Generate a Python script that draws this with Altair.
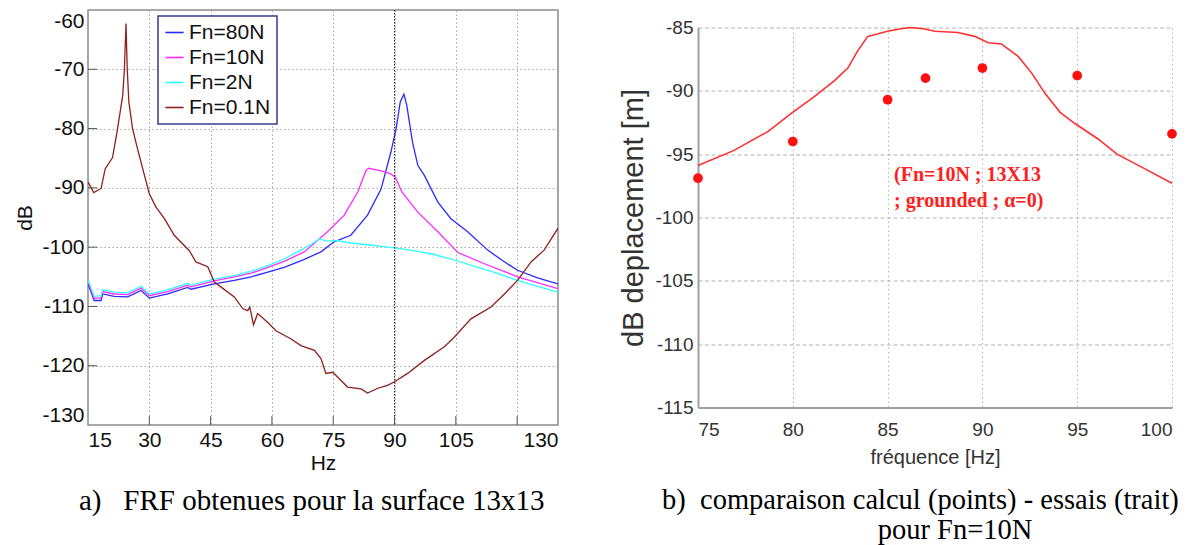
import altair as alt
import pandas as pd

# ---------------- Panel a) : FRF curves ----------------
series_names = ["Fn=80N", "Fn=10N", "Fn=2N", "Fn=0.1N"]
series_colors = ["#2a2aff", "#ff2bff", "#2bffff", "#8e2020"]

fn80_hz = [15, 16.5, 18.2, 18.6, 21.4, 24.7, 28.0, 30.0, 34.5, 39.4, 40.2, 45.9, 50.8, 54.9, 59.0,
           63.0, 67.5, 72.0, 75.2, 79.3, 83.4, 86.7, 89.1, 90.4, 91.4, 92.3, 93.0, 94.4, 95.7, 97.3,
           100.6, 103.8, 107.9, 112.8, 116.5, 120.1, 125.0, 130.0]
fn80_db = [-106.2, -109.0, -109.0, -107.9, -108.3, -108.4, -107.3, -108.6, -107.9, -106.8, -107.1,
           -106.2, -105.6, -105.0, -104.2, -103.4, -102.2, -100.8, -99.1, -98.0, -94.6, -90.2, -84.0,
           -80.0, -75.5, -74.2, -76.1, -82.3, -86.2, -87.9, -92.4, -95.2, -97.4, -100.5, -102.3,
           -103.9, -105.2, -106.2]

fn10_hz = [15, 16.5, 18.2, 18.6, 21.4, 24.7, 28.0, 30.0, 34.5, 39.4, 40.2, 45.9, 50.8, 54.9, 59.0,
           63.0, 67.9, 73.6, 77.7, 81.0, 83.0, 83.7, 86.5, 89.0, 90.2, 91.8, 95.7, 100.6, 105.5,
           112.0, 120.1, 130.0]
fn10_db = [-105.8, -108.6, -108.6, -107.5, -107.9, -108.0, -106.9, -108.2, -107.5, -106.4, -106.7,
           -105.7, -105.0, -104.4, -103.4, -102.4, -100.8, -97.4, -94.6, -90.7, -87.1, -86.7, -87.1,
           -87.6, -88.2, -90.7, -94.1, -97.4, -100.9, -102.8, -105.0, -107.0]

fn2_hz = [15, 16.5, 18.2, 18.6, 21.4, 24.7, 28.0, 30.0, 34.5, 39.4, 40.2, 45.9, 50.8, 54.9, 59.0,
          63.0, 67.1, 69.5, 71.6, 73.6, 76.0, 79.3, 83.5, 88.3, 92.0, 95.7, 99.5, 103.8, 110.4,
          115.0, 120.1, 125.0, 130.0]
fn2_db = [-105.5, -108.3, -108.2, -107.2, -107.6, -107.7, -106.6, -107.9, -107.2, -106.1, -106.4,
          -105.4, -104.8, -104.1, -103.1, -102.0, -100.5, -99.6, -98.6, -99.0, -98.9, -99.3, -99.6,
          -100.0, -100.3, -100.7, -101.2, -102.0, -103.4, -104.4, -105.6, -106.6, -107.6]

fn01_hz = [15, 16.4, 18.2, 19.2, 21.0, 22.1, 23.5, 23.9, 24.3, 24.6, 25.0, 25.9, 27.0, 28.4, 30.0,
           31.6, 33.7, 36.1, 39.8, 41.4, 44.3, 45.9, 47.5, 50.8, 52.9, 54.1, 54.6, 55.5, 56.5, 59.0,
           61.0, 64.7, 67.1, 70.4, 72.0, 73.2, 74.9, 78.5, 81.8, 83.4, 85.9, 88.3, 90.0, 93.2, 97.3,
           102.2, 104.6, 108.7, 113.6, 116.9, 120.1, 123.4, 126.6, 130.0]
fn01_db = [-89.0, -90.8, -90.1, -86.8, -84.9, -80.6, -74.4, -70.0, -62.3, -70.0, -75.5, -80.0,
           -83.1, -86.8, -91.0, -93.2, -95.2, -98.0, -100.6, -102.5, -103.3, -105.9, -106.7, -108.4,
           -110.4, -110.7, -110.1, -113.1, -111.2, -112.7, -114.1, -115.5, -116.6, -117.4, -118.8,
           -121.3, -121.1, -123.6, -123.9, -124.6, -123.8, -123.3, -122.7, -121.3, -119.1, -116.8,
           -115.2, -112.1, -110.1, -107.9, -105.6, -102.5, -100.5, -96.8]

x1_ticks = [15, 30, 45, 60, 75, 90, 105, 120, 130]
x1_labels = ["15", "30", "45", "60", "75", "90", "105", "", "130"]
y1_ticks = [-130, -120, -110, -100, -90, -80, -70, -60]
highlight_hz = [90]
caption_a = "a)\u00a0\u00a0\u00a0FRF obtenues pour la surface 13x13"

# ---------------- Panel b) : comparison ----------------
exp_hz = [75, 76.9, 78.7, 79.9, 81.1, 82.2, 82.9, 83.4, 83.95, 84.5, 85.0, 85.7, 86.2, 86.9, 87.5,
          88.7, 89.6, 90.3, 91.0, 91.9, 92.6, 93.3, 94.1, 94.9, 96.1, 97.1, 98.5, 100.0]
exp_db = [-95.9, -94.7, -93.2, -91.8, -90.5, -89.2, -88.2, -86.9, -85.7, -85.5, -85.3, -85.1, -85.0,
          -85.1, -85.3, -85.4, -85.7, -86.2, -86.3, -87.3, -88.6, -90.2, -91.7, -92.6, -93.8, -95.0,
          -96.1, -97.3]
calc_hz = [75, 80, 85, 87, 90, 95, 100]
calc_db = [-96.9, -94.0, -90.7, -89.0, -88.2, -88.8, -93.4]
x2_ticks = [75, 80, 85, 90, 95, 100]
y2_ticks = [-115, -110, -105, -100, -95, -90, -85]
annotation_b = "(Fn=10N ; 13X13\n; grounded ; \u03b1=0)"
caption_b1 = "b)\u00a0\u00a0comparaison calcul (points) - essais (trait)"
caption_b2 = "pour Fn=10N"

# ---------------- build tables ----------------
rows = []
for name, hz, db in zip(series_names, [fn80_hz, fn10_hz, fn2_hz, fn01_hz],
                        [fn80_db, fn10_db, fn2_db, fn01_db]):
    for i, (h, d) in enumerate(zip(hz, db)):
        rows.append({"serie": name, "hz": h, "db": d, "i": i})
frf = pd.DataFrame(rows)
exp_df = pd.DataFrame({"hz": exp_hz, "db": exp_db})
calc_df = pd.DataFrame({"hz": calc_hz, "db": calc_db})

SANS = "Liberation Sans"
SERIF = "Liberation Serif"

W1, H1 = 470, 415
W2, H2 = 474, 380

label_expr = ("[" + ",".join(f"'{l}'" for l in x1_labels) + "][indexof(["
              + ",".join(str(v) for v in x1_ticks) + "], datum.value)]")
plain_expr = "'' + datum.value"

x1_scale = alt.Scale(domain=[15, 130], nice=False, zero=False)
y1_scale = alt.Scale(domain=[-130, -60], nice=False, zero=False)

ax_common1 = dict(grid=True, gridColor="#a6a6a6", gridDash=[1.5, 2.5], gridWidth=1,
                  domain=False, ticks=False, labelFont=SANS, labelFontSize=21,
                  labelColor="#111", titleFont=SANS, titleFontSize=21,
                  titleFontWeight="normal", titleColor="#111", labelFlush=True)

x1 = alt.X("hz:Q", scale=x1_scale,
           axis=alt.Axis(values=x1_ticks, labelExpr=label_expr, title="Hz",
                         labelPadding=4, titlePadding=2, **ax_common1))
y1 = alt.Y("db:Q", scale=y1_scale,
           axis=alt.Axis(values=y1_ticks, labelExpr=plain_expr, title="dB", labelPadding=4,
                         titlePadding=6, **ax_common1))

lines1 = alt.Chart(frf).mark_line(strokeWidth=1.3, clip=True).encode(
    x=x1, y=y1,
    color=alt.Color("serie:N", sort=series_names,
                    scale=alt.Scale(domain=series_names, range=series_colors),
                    legend=alt.Legend(orient="none", legendX=70, legendY=6, title=None,
                                      symbolType="stroke", symbolSize=330,
                                      symbolStrokeWidth=1.6, labelFont=SANS,
                                      labelFontSize=21, labelColor="#111",
                                      strokeColor="#3a3a8c", fillColor="white",
                                      padding=6, rowPadding=3, labelOffset=4)),
    order="i:Q",
)

hl = alt.Chart(pd.DataFrame({"hz": highlight_hz})).mark_rule(
    color="#222", strokeDash=[1.5, 1.5], strokeWidth=1).encode(x="hz:Q")

xticks1 = alt.Chart(pd.DataFrame({"hz": x1_ticks[1:-1]})).mark_rule(
    color="#555", strokeWidth=1).encode(x="hz:Q", y=alt.value(H1), y2=alt.value(H1 - 9))
yticks1 = alt.Chart(pd.DataFrame({"db": y1_ticks[1:-1]})).mark_rule(
    color="#555", strokeWidth=1).encode(y="db:Q", x=alt.value(0), x2=alt.value(9))

cap_a = alt.Chart(pd.DataFrame({"t": [caption_a]})).mark_text(
    font=SERIF, fontSize=29, align="left", baseline="alphabetic", color="black").encode(
    text="t:N", x=alt.value(-9), y=alt.value(500))

left = alt.layer(lines1, hl, xticks1, yticks1, cap_a).properties(
    width=W1, height=H1, view=alt.ViewBackground(stroke="#8c8c8c", strokeWidth=1.5))

# right panel
x2_scale = alt.Scale(domain=[75, 100], nice=False, zero=False)
y2_scale = alt.Scale(domain=[-115, -85], nice=False, zero=False)
ax_common2 = dict(grid=True, gridColor="#b4b4b4", gridWidth=1, domain=True,
                  domainColor="#a0a0a0", domainWidth=2, ticks=False,
                  labelFont=SANS, labelFontSize=19, labelColor="#333", labelExpr=plain_expr,
                  titleFont=SANS, titleFontWeight="normal", titleColor="#333")
x2 = alt.X("hz:Q", scale=x2_scale,
           axis=alt.Axis(values=x2_ticks, title="fréquence [Hz]", gridDash=[1.5, 3],
                         labelPadding=13, titlePadding=8, titleFontSize=20, **ax_common2))
y2 = alt.Y("db:Q", scale=y2_scale,
           axis=alt.Axis(values=y2_ticks, title="dB deplacement [m]", gridDash=[4, 2.5],
                         labelPadding=5, titlePadding=6, titleFontSize=29, **ax_common2))

line2 = alt.Chart(exp_df).mark_line(color="#ff3030", strokeWidth=1.6).encode(x=x2, y=y2)
pts2 = alt.Chart(calc_df).mark_circle(color="#ff1010", size=95, opacity=1).encode(
    x="hz:Q", y="db:Q")
ann = alt.Chart(pd.DataFrame({"t": [annotation_b]})).mark_text(
    font=SERIF, fontSize=20, fontWeight="bold", color="#ff2020", align="left",
    baseline="alphabetic", lineBreak="\n", lineHeight=26.5).encode(
    text="t:N", x=alt.value(196), y=alt.value(153))
cap_b1 = alt.Chart(pd.DataFrame({"t": [caption_b1]})).mark_text(
    font=SERIF, fontSize=28.5, align="left", baseline="alphabetic", color="black").encode(
    text="t:N", x=alt.value(-36), y=alt.value(481))
cap_b2 = alt.Chart(pd.DataFrame({"t": [caption_b2]})).mark_text(
    font=SERIF, fontSize=28.5, align="center", baseline="alphabetic", color="black").encode(
    text="t:N", x=alt.value(257), y=alt.value(511))

right = alt.layer(line2, pts2, ann, cap_b1, cap_b2).properties(
    width=W2, height=H2, view=alt.ViewBackground(stroke="transparent"))

chart = alt.hconcat(left, right, spacing=140, bounds="flush", center=True).properties(
    padding={"left": 6, "top": 0, "right": 0, "bottom": 0}
).configure_legend(strokeWidth=1.5)

chart.save("out.html", embed_options={"renderer": "svg", "actions": False})
